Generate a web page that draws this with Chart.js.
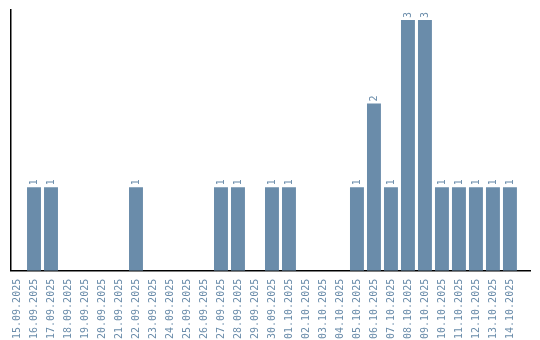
<!DOCTYPE html>
<html><head><meta charset="utf-8">
<script src="https://cdn.jsdelivr.net/npm/chart.js@4/dist/chart.umd.min.js"></script>
<style>html,body{margin:0;padding:0;background:#fff}#c{display:block}</style>
</head><body>
<canvas id="c" width="540" height="340"></canvas>
<script>
const categories = ["15.09.2025","16.09.2025","17.09.2025","18.09.2025","19.09.2025","20.09.2025","21.09.2025","22.09.2025","23.09.2025","24.09.2025","25.09.2025","26.09.2025","27.09.2025","28.09.2025","29.09.2025","30.09.2025","01.10.2025","02.10.2025","03.10.2025","04.10.2025","05.10.2025","06.10.2025","07.10.2025","08.10.2025","09.10.2025","10.10.2025","11.10.2025","12.10.2025","13.10.2025","14.10.2025"];
const counts = [0,1,1,0,0,0,0,1,0,0,0,0,1,1,0,1,1,0,0,0,1,2,1,3,3,1,1,1,1,1];
const barColor = "#6a8caa";
const labelColor = "#6a8caa";
const fontFamily = "'DejaVu Sans Mono', monospace";

const points = categories.map((c, i) => ({ x: i, y: counts[i] }));

const valueLabels = {
  id: "valueLabels",
  afterDatasetsDraw(chart) {
    const ctx = chart.ctx;
    const meta = chart.getDatasetMeta(0);
    ctx.save();
    ctx.fillStyle = labelColor;
    ctx.font = "10px " + fontFamily;
    ctx.textAlign = "left";
    ctx.textBaseline = "middle";
    meta.data.forEach((bar, i) => {
      const v = counts[i];
      if (!v) return;
      ctx.save();
      ctx.translate(bar.x, bar.y - 2);
      ctx.rotate(-Math.PI / 2);
      ctx.fillText(String(v), 0, 0);
      ctx.restore();
    });
    ctx.restore();
  }
};

new Chart(document.getElementById("c"), {
  type: "bar",
  data: {
    datasets: [{ data: points, backgroundColor: barColor, barPercentage: 0.82, categoryPercentage: 1.0 }]
  },
  options: {
    responsive: false,
    animation: false,
    layout: { padding: { left: 10, right: 10, top: 10, bottom: 1 } },
    plugins: { legend: { display: false }, tooltip: { enabled: false } },
    scales: {
      x: {
        type: "linear",
        min: -0.353,
        max: 30.18,
        offset: false,
        grid: { display: false },
        border: { display: true, color: "#000", width: 1.5 },
        ticks: {
          stepSize: 1, includeBounds: false, maxTicksLimit: 60, autoSkip: false,
          color: labelColor, font: { family: fontFamily, size: 10 },
          minRotation: 90, maxRotation: 90, padding: 0,
          callback: (v) => (Number.isInteger(v) && categories[v]) ? categories[v] : ""
        }
      },
      y: {
        min: 0, max: 3.12,
        grid: { display: false },
        border: { display: true, color: "#000", width: 1.5 },
        ticks: { display: false },
        afterFit: (s) => { s.width = 1; }
      }
    }
  },
  plugins: [valueLabels]
});
</script>
</body></html>
